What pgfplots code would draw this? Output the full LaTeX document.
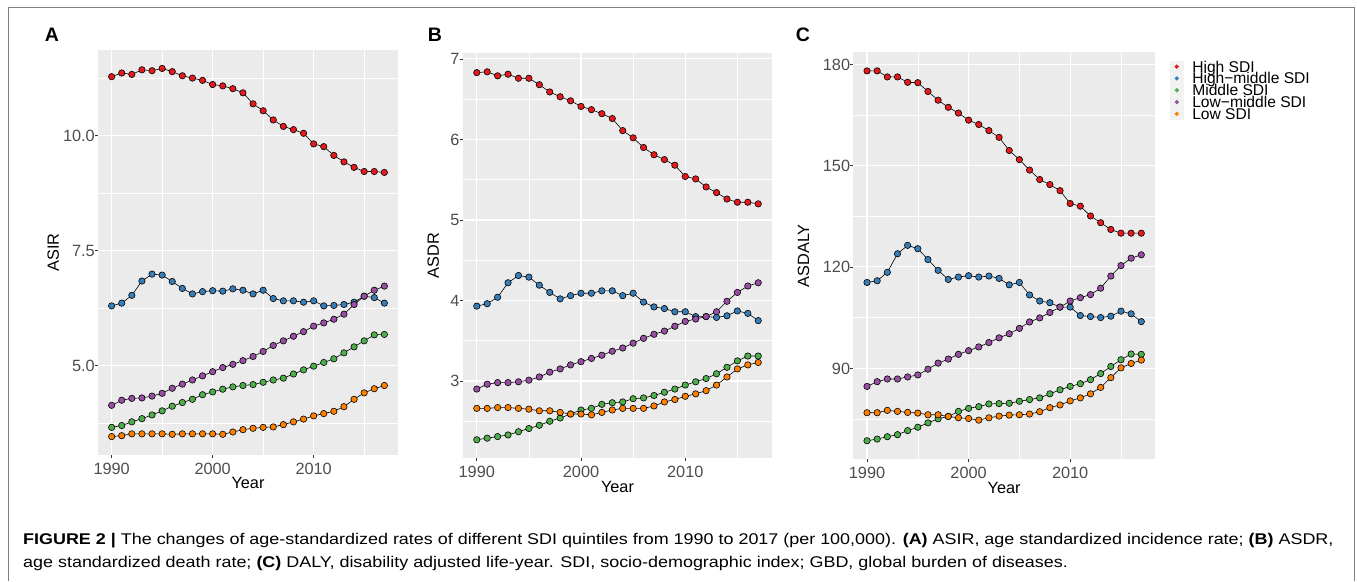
\documentclass[border=0pt]{standalone}
\usepackage{fontspec}
\setmainfont{Liberation Sans}
\usepackage{pgfplots}
\usepackage{pgfplotstable}
\pgfplotsset{compat=1.18}
\definecolor{cHi}{HTML}{E41A1C}
\definecolor{cHm}{HTML}{377EB8}
\definecolor{cMi}{HTML}{4DAF4A}
\definecolor{cLm}{HTML}{984EA3}
\definecolor{cLo}{HTML}{FF7F00}
\definecolor{panelbg}{HTML}{EBEBEB}
\definecolor{tickgray}{HTML}{4D4D4D}
\definecolor{tickmark}{HTML}{333333}
\definecolor{legkey}{HTML}{F2F2F2}
\definecolor{framegray}{HTML}{808080}

\pgfplotstableread{
year hi hm mi lm lo
1990 11.28 6.30 3.66 4.14 3.46
1991 11.36 6.36 3.70 4.25 3.48
1992 11.33 6.53 3.78 4.29 3.52
1993 11.43 6.84 3.85 4.30 3.52
1994 11.41 6.99 3.93 4.34 3.52
1995 11.46 6.97 4.02 4.40 3.52
1996 11.39 6.83 4.12 4.51 3.51
1997 11.30 6.68 4.20 4.60 3.52
1998 11.25 6.56 4.27 4.69 3.52
1999 11.20 6.61 4.37 4.78 3.52
2000 11.11 6.63 4.43 4.87 3.52
2001 11.08 6.62 4.49 4.96 3.51
2002 11.02 6.67 4.54 5.03 3.56
2003 10.93 6.64 4.57 5.11 3.61
2004 10.69 6.56 4.59 5.20 3.64
2005 10.54 6.64 4.64 5.31 3.66
2006 10.34 6.46 4.69 5.44 3.67
2007 10.20 6.41 4.73 5.54 3.72
2008 10.13 6.41 4.82 5.64 3.78
2009 10.05 6.38 4.91 5.74 3.84
2010 9.82 6.41 4.99 5.86 3.91
2011 9.76 6.30 5.07 5.93 3.96
2012 9.57 6.31 5.15 6.01 4.01
2013 9.43 6.33 5.28 6.12 4.11
2014 9.31 6.38 5.41 6.33 4.27
2015 9.22 6.51 5.54 6.51 4.41
2016 9.22 6.48 5.67 6.64 4.50
2017 9.20 6.36 5.68 6.73 4.57
}\tabA

\pgfplotstableread{
year hi hm mi lm lo
1990 6.83 3.93 2.27 2.90 2.66
1991 6.84 3.96 2.29 2.96 2.66
1992 6.79 4.04 2.31 2.98 2.67
1993 6.81 4.22 2.33 2.98 2.67
1994 6.76 4.31 2.37 2.99 2.66
1995 6.76 4.29 2.41 3.01 2.65
1996 6.68 4.19 2.45 3.05 2.63
1997 6.59 4.10 2.50 3.11 2.63
1998 6.53 4.02 2.54 3.15 2.61
1999 6.48 4.06 2.59 3.20 2.59
2000 6.41 4.09 2.64 3.24 2.59
2001 6.37 4.09 2.66 3.28 2.58
2002 6.32 4.12 2.71 3.32 2.61
2003 6.26 4.12 2.73 3.37 2.64
2004 6.11 4.06 2.74 3.41 2.66
2005 6.02 4.09 2.78 3.47 2.66
2006 5.90 3.98 2.79 3.53 2.66
2007 5.81 3.92 2.82 3.58 2.69
2008 5.75 3.90 2.86 3.62 2.74
2009 5.68 3.86 2.90 3.68 2.77
2010 5.54 3.86 2.95 3.74 2.81
2011 5.51 3.80 2.99 3.77 2.84
2012 5.41 3.80 3.03 3.80 2.88
2013 5.34 3.79 3.09 3.86 2.95
2014 5.26 3.81 3.17 3.99 3.05
2015 5.22 3.87 3.25 4.10 3.15
2016 5.22 3.84 3.31 4.18 3.20
2017 5.20 3.75 3.31 4.22 3.23
}\tabB

\pgfplotstableread{
year hi hm mi lm lo
1990 178.1 115.4 68.5 84.6 76.8
1991 178.1 115.9 69.0 86.0 76.8
1992 176.3 118.4 69.7 86.8 77.5
1993 176.3 123.9 70.3 86.8 77.2
1994 174.7 126.4 71.5 87.4 76.9
1995 174.6 125.4 72.5 88.0 76.7
1996 172.0 122.2 73.8 89.7 76.2
1997 169.4 119.0 75.0 91.5 76.2
1998 167.3 116.3 75.7 92.7 75.7
1999 165.6 117.0 77.2 94.1 75.3
2000 163.5 117.4 78.1 95.2 75.1
2001 162.2 117.0 78.6 96.3 74.6
2002 160.4 117.3 79.4 97.6 75.3
2003 158.4 116.6 79.5 99.0 75.8
2004 154.5 114.7 79.6 100.2 76.1
2005 151.8 115.4 80.2 101.8 76.2
2006 148.7 111.7 80.7 103.7 76.4
2007 145.9 109.9 81.2 104.9 77.1
2008 144.4 109.4 82.4 106.5 78.3
2009 142.6 108.1 83.6 108.1 79.1
2010 138.8 108.1 84.6 109.9 80.3
2011 138.0 105.6 85.4 110.9 81.2
2012 135.1 105.3 86.6 111.8 82.4
2013 133.1 105.0 88.4 113.7 84.3
2014 131.1 105.4 90.5 117.3 87.2
2015 130.0 106.9 92.5 120.4 90.1
2016 130.0 106.1 94.2 122.6 91.4
2017 130.0 103.8 94.1 123.6 92.4
}\tabC

\newcommand{\tfont}{\fontsize{16.3}{16.3}\selectfont}

\pgfplotsset{
  gg/.style={
    scale only axis,
    axis background/.style={fill=panelbg},
    axis line style={draw=none},
    grid=both,
    major grid style={white, line width=1.1pt},
    minor grid style={white, line width=0.55pt},
    tick align=outside,
    major tick length=3pt,
    minor tick length=0pt,
    every tick/.style={tickmark, line width=0.8pt},
    xtick pos=left, ytick pos=left,
    xmin=1988.65, xmax=2018.35,
    xtick={1990,2000,2010},
    minor xtick={1995,2005,2015},
    /pgf/number format/assume math mode=true,
    x tick label style={font=\tfont, text=tickgray, anchor=north, inner sep=0pt, text height=11.7pt, text depth=0pt, yshift=-4.6pt, /pgf/number format/set thousands separator={}},
    y tick label style={font=\tfont, text=tickgray, anchor=east, inner sep=0pt, text height=11.7pt, text depth=0pt},
    xlabel={Year},
    every axis x label/.style={font=\tfont, anchor=center, inner sep=0pt, text height=11.7pt, text depth=0pt, at={(axis description cs:0.5,-0.069)}},
    every axis y label/.style={font=\tfont, anchor=center, rotate=90, inner sep=0pt, text height=11.7pt, text depth=0pt},
    every axis plot/.append style={black, line width=0.6pt, mark=*, mark size=3.2pt, mark options={draw=black, line width=0.5pt}},
  },
  leg/.style={legend image code/.code={
      \fill[legkey] (0pt,-5.5pt) rectangle (13pt,5.5pt);
      \fill[#1] (6.5pt,0pt) circle (1.8pt);
      \path (21.7pt,0pt);}},
}

\begin{document}
\begin{tikzpicture}[x=1pt,y=1pt]
\useasboundingbox (0,0) rectangle (1357,581);
\draw[framegray, line width=1pt] (8,0) -- (8,573) -- (1354,573) -- (1354,0);

% Panel A
\begin{axis}[gg, at={(98pt,126pt)}, anchor=south west, width=300pt, height=405pt,
  ymin=3.06, ymax=11.86,
  ytick={5,7.5,10}, minor ytick={3.75,6.25,8.75,11.25},
  yticklabel style={/pgf/number format/.cd, fixed, fixed zerofill, precision=1},
  ylabel={ASIR}, ylabel style={at={(axis description cs:-0.15,0.5)}}]
\addplot[mark options={fill=cHi}] table[x=year,y=hi] {\tabA};
\addplot[mark options={fill=cHm}] table[x=year,y=hm] {\tabA};
\addplot[mark options={fill=cMi}] table[x=year,y=mi] {\tabA};
\addplot[mark options={fill=cLm}] table[x=year,y=lm] {\tabA};
\addplot[mark options={fill=cLo}] table[x=year,y=lo] {\tabA};
\end{axis}

% Panel B
\begin{axis}[gg, at={(462.7pt,122.7pt)}, anchor=south west, width=309.6pt, height=405pt,
  ymin=2.04, ymax=7.07,
  ytick={3,4,5,6,7}, minor ytick={2.5,3.5,4.5,5.5,6.5},
  ylabel={ASDR}, ylabel style={at={(axis description cs:-0.096,0.5)}}]
\addplot[mark options={fill=cHi}] table[x=year,y=hi] {\tabB};
\addplot[mark options={fill=cHm}] table[x=year,y=hm] {\tabB};
\addplot[mark options={fill=cMi}] table[x=year,y=mi] {\tabB};
\addplot[mark options={fill=cLm}] table[x=year,y=lm] {\tabB};
\addplot[mark options={fill=cLo}] table[x=year,y=lo] {\tabB};
\end{axis}

% Panel C
\begin{axis}[gg, at={(853.3pt,121.7pt)}, anchor=south west, width=301.7pt, height=407pt,
  ymin=63.0, ymax=183.6,
  ytick={90,120,150,180}, minor ytick={75,105,135,165},
  ylabel={ASDALY}, ylabel style={at={(axis description cs:-0.166,0.5)}},
  legend style={at={(axis description cs:1.0497,0.979)}, anchor=north west, draw=none, fill=none,
    inner sep=0pt, outer sep=0pt, row sep=0.2pt, column sep=0pt, font=\fontsize{15.6}{15.6}\selectfont,
    nodes={inner sep=0pt, text height=11.0pt, text depth=0pt}},
  legend cell align=left]
\addplot[forget plot, mark options={fill=cHi}] table[x=year,y=hi] {\tabC};
\addplot[forget plot, mark options={fill=cHm}] table[x=year,y=hm] {\tabC};
\addplot[forget plot, mark options={fill=cMi}] table[x=year,y=mi] {\tabC};
\addplot[forget plot, mark options={fill=cLm}] table[x=year,y=lm] {\tabC};
\addplot[forget plot, mark options={fill=cLo}] table[x=year,y=lo] {\tabC};
\addlegendimage{leg=cHi}
\addlegendimage{leg=cHm}
\addlegendimage{leg=cMi}
\addlegendimage{leg=cLm}
\addlegendimage{leg=cLo}
\legend{High SDI, High−middle SDI, Middle SDI, Low−middle SDI, Low SDI}
\end{axis}

% panel letters
\node[anchor=base, inner sep=0pt, font=\bfseries\fontsize{19.5}{19.5}\selectfont] at (52,539) {A};
\node[anchor=base, inner sep=0pt, font=\bfseries\fontsize{19.5}{19.5}\selectfont] at (435,539) {B};
\node[anchor=base, inner sep=0pt, font=\bfseries\fontsize{19.5}{19.5}\selectfont] at (803,539) {C};

% caption
\node[anchor=base west, inner sep=0pt, font=\fontsize{15.5}{15.5}\selectfont] at (23,37)
 {\scalebox{1.157}[1]{\textbf{FIGURE 2 |} The changes of age-standardized rates of different SDI quintiles from 1990 to 2017 (per 100,000). \textbf{(A)} ASIR, age standardized incidence rate; \textbf{(B)} ASDR,}};
\node[anchor=base west, inner sep=0pt, font=\fontsize{15.5}{15.5}\selectfont] at (23,13.7)
 {\scalebox{1.157}[1]{age standardized death rate; \textbf{(C)} DALY, disability adjusted life-year. SDI, socio-demographic index; GBD, global burden of diseases.}};
\end{tikzpicture}
\end{document}
